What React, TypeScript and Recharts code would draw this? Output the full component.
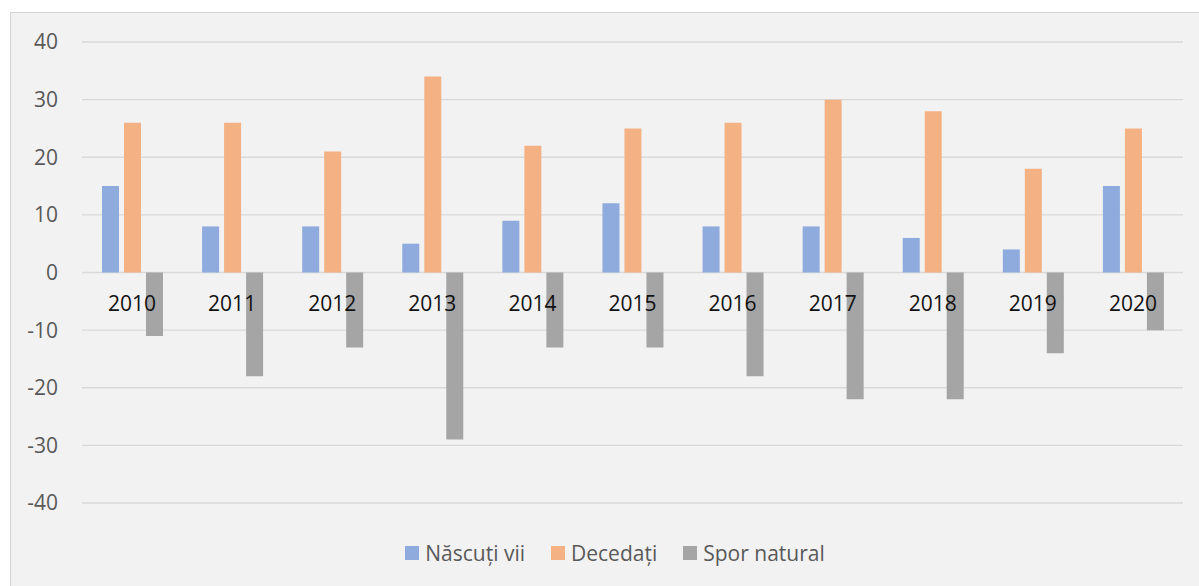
import { BarChart, Bar, XAxis, YAxis, CartesianGrid, Legend } from 'recharts';

const years = ['2010', '2011', '2012', '2013', '2014', '2015', '2016', '2017', '2018', '2019', '2020'];
const nascutiVii = [15, 8, 8, 5, 9, 12, 8, 8, 6, 4, 15];
const decedati = [26, 26, 21, 34, 22, 25, 26, 30, 28, 18, 25];
const sporNatural = [-11, -18, -13, -29, -13, -13, -18, -22, -22, -14, -10];
const yTicks = [-40, -30, -20, -10, 0, 10, 20, 30, 40];

const series = [
    { key: 'nascuti', name: 'Născuți vii', color: '#8FAADC' },
    { key: 'decedati', name: 'Decedați', color: '#F4B183' },
    { key: 'spor', name: 'Spor natural', color: '#A5A5A5' },
];

const data = years.map((year, i) => ({
    year,
    nascuti: nascutiVii[i],
    decedati: decedati[i],
    spor: sporNatural[i],
}));

const FONT = '"Open Sans", "Liberation Sans", sans-serif';
const CHART_W = 1211;
const CHART_H = 574;
const MARGIN = { top: 30, right: 38, left: 0, bottom: 13 };
const XAXIS_H = 30;
const LEGEND_H = 40;
const PLOT_H = CHART_H - MARGIN.top - MARGIN.bottom - XAXIS_H - LEGEND_H;

// category labels sit just under the zero line, on top of the bars
function YearTick(props: any) {
    const { x, y, payload } = props;
    return (
        <text x={x} y={y - PLOT_H / 2 + 38} textAnchor="middle" fill="#111111" fontSize={21} fontFamily={FONT}>
            {payload.value}
        </text>
    );
}

function LegendContent() {
    return (
        <div
            style={{
                height: LEGEND_H,
                display: 'flex',
                alignItems: 'center',
                justifyContent: 'center',
                paddingLeft: 37,
                fontFamily: FONT,
                fontSize: 21,
                color: '#595959',
            }}
        >
            {series.map((s, i) => (
                <div key={s.key} style={{ display: 'flex', alignItems: 'center', marginLeft: i === 0 ? 0 : 26 }}>
                    <span style={{ width: 14, height: 14, background: s.color, marginRight: 6, display: 'inline-block' }} />
                    <span>{s.name}</span>
                </div>
            ))}
        </div>
    );
}

export default function App() {
    return (
        <div style={{ position: 'fixed', left: 0, top: 0, width: 1199, height: 586, background: '#ffffff', overflow: 'hidden' }}>
            <div
                style={{
                    position: 'absolute',
                    left: 10,
                    top: 12,
                    width: CHART_W,
                    height: CHART_H + 10,
                    background: '#f2f2f2',
                    borderLeft: '1.5px solid #d4d4d4',
                    borderTop: '1.5px solid #d4d4d4',
                    boxSizing: 'border-box',
                }}
            />
            <div style={{ position: 'absolute', left: 10, top: 12 }}>
                <BarChart width={CHART_W} height={CHART_H} data={data} margin={MARGIN} barSize={17} barGap={5}>
                    <CartesianGrid vertical={false} stroke="#d9d9d9" strokeWidth={1.3} />
                    <YAxis
                        domain={[-40, 40]}
                        ticks={yTicks}
                        width={72}
                        axisLine={false}
                        tickLine={false}
                        tickSize={0}
                        tickMargin={24}
                        interval={0}
                        tick={{ fill: '#595959', fontSize: 21, fontFamily: FONT }}
                    />
                    {series.map((s) => (
                        <Bar key={s.key} dataKey={s.key} name={s.name} fill={s.color} isAnimationActive={false} />
                    ))}
                    <XAxis
                        dataKey="year"
                        height={XAXIS_H}
                        axisLine={false}
                        tickLine={false}
                        tickSize={0}
                        tickMargin={0}
                        interval={0}
                        tick={<YearTick />}
                    />
                    <Legend verticalAlign="bottom" height={LEGEND_H} content={<LegendContent />} />
                </BarChart>
            </div>
        </div>
    );
}
